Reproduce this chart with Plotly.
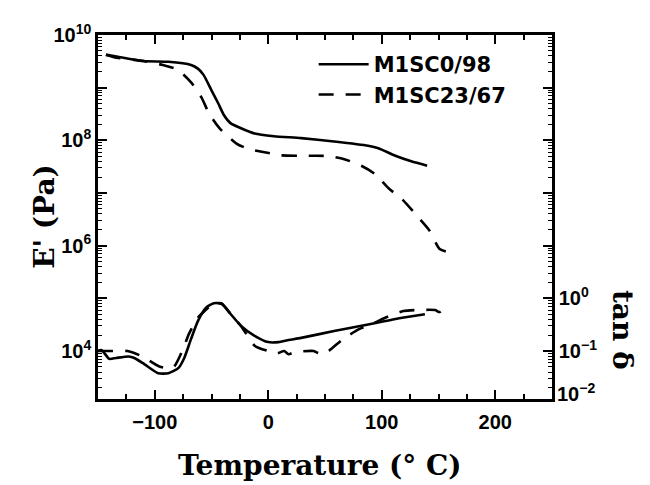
import plotly.graph_objects as go

# Storage modulus E' (Pa) versus temperature (deg C)
temp_e_solid = [-143, -136, -110, -88, -68, -62, -57, -50, -44, -39, -33, -24, -12,
                5, 29, 58, 88, 97, 112, 126, 140]
e_solid = [4.2e9, 4.0e9, 3.2e9, 3.1e9, 2.7e9, 2.3e9, 1.75e9, 8.9e8, 5.0e8, 3.0e8,
           2.1e8, 1.7e8, 1.35e8, 1.2e8, 1.1e8, 9.5e7, 7.9e7, 7.1e7, 5.1e7, 4.0e7, 3.3e7]

temp_e_dashed = [-143, -136, -110, -93, -80, -68, -59, -52, -43, -28, -17, -2, 11,
                 27, 41, 54, 67, 82, 94, 106, 118, 131, 142, 151, 160]
e_dashed = [4.2e9, 3.8e9, 3.2e9, 2.7e9, 2.2e9, 1.26e9, 6.6e8, 3.2e8, 1.7e8, 8.7e7,
            6.8e7, 5.9e7, 5.2e7, 5.1e7, 5.1e7, 5.0e7, 4.4e7, 3.3e7, 2.3e7, 1.23e7,
            7.6e6, 3.7e6, 1.95e6, 8.7e5, 7.4e5]

# Loss tangent tan(delta) versus temperature
temp_tan_solid = [-150, -147, -140, -134, -123, -118, -109, -97, -88, -79, -74, -68,
                  -62, -55, -48, -41, -33, -24, -12, 0, 9, 18, 29, 58, 88, 118, 138]
tan_solid = [0.100, 0.105, 0.071, 0.074, 0.079, 0.074, 0.056, 0.038, 0.038, 0.048,
             0.074, 0.17, 0.37, 0.66, 0.81, 0.79, 0.50, 0.30, 0.195, 0.148, 0.148,
             0.162, 0.178, 0.24, 0.32, 0.43, 0.50]

temp_tan_dashed = [-150, -140, -124, -111, -96, -84, -75, -70, -62, -57, -48, -41,
                   -33, -24, -12, 0, 8, 14, 18, 23, 40, 45, 51, 66, 80, 93, 103,
                   119, 131, 147, 151, 159]
tan_dashed = [0.100, 0.100, 0.100, 0.079, 0.051, 0.048, 0.11, 0.21, 0.43, 0.55,
              0.81, 0.79, 0.50, 0.30, 0.126, 0.100, 0.091, 0.100, 0.087, 0.095,
              0.100, 0.089, 0.093, 0.17, 0.26, 0.34, 0.43, 0.575, 0.60, 0.60, 0.55,
              0.81]

series_names = ["M1SC0/98", "M1SC23/67"]

e_ticks = [1e4, 1e5, 1e6, 1e7, 1e8, 1e9, 1e10]
e_ticktext = ["10<sup>4</sup>", "", "10<sup>6</sup>", "", "10<sup>8</sup>", "",
              "10<sup>10</sup>"]
tan_ticks = [1e-1, 1e0, 1e1, 1e2, 1e3, 1e4, 1e5]
tan_ticktext = ["10<sup>−1</sup>", "10<sup>0</sup>", "", "", "", "", ""]
temp_ticks = [-100, 0, 100, 200]

BLACK = "black"
DASH = "15px,12px"
LW = 2.6

fig = go.Figure()
fig.add_trace(go.Scatter(x=temp_e_solid, y=e_solid, mode="lines", name=series_names[0],
                         line=dict(color=BLACK, width=LW, shape="spline", smoothing=0.6)))
fig.add_trace(go.Scatter(x=temp_e_dashed, y=e_dashed, mode="lines", name=series_names[1],
                         line=dict(color=BLACK, width=LW, dash=DASH, shape="spline",
                                   smoothing=0.6)))
fig.add_trace(go.Scatter(x=temp_tan_solid, y=tan_solid, mode="lines", yaxis="y2",
                         showlegend=False,
                         line=dict(color=BLACK, width=LW, shape="spline", smoothing=0.6)))
fig.add_trace(go.Scatter(x=temp_tan_dashed, y=tan_dashed, mode="lines", yaxis="y2",
                         showlegend=False,
                         line=dict(color=BLACK, width=LW, dash=DASH, shape="spline",
                                   smoothing=0.6)))

tickfont = dict(family="Liberation Sans, Arial, sans-serif", size=20, color=BLACK,
                weight="bold")
titlefont = dict(family="DejaVu Serif, serif", size=28, color=BLACK, weight="bold")

fig.update_layout(
    width=650, height=485,
    margin=dict(l=98, r=98, t=35, b=86),
    paper_bgcolor="white", plot_bgcolor="white",
    showlegend=True,
    legend=dict(x=0.475, y=0.975, xanchor="left", yanchor="top",
                bgcolor="rgba(0,0,0,0)", itemwidth=50, tracegroupgap=0,
                font=dict(family="DejaVu Sans, sans-serif", size=21, color=BLACK,
                          weight="bold")),
    xaxis=dict(range=[-150, 250], tickvals=temp_ticks, ticks="inside", ticklen=9,
               tickwidth=2, tickcolor=BLACK, showline=True, linewidth=2.5,
               linecolor=BLACK, mirror="ticks", showgrid=False, zeroline=False,
               tickfont=tickfont, ticklabelstandoff=3,
               minor=dict(ticks="inside", ticklen=5, tickwidth=1.5, dtick=25,
                          tick0=0, tickcolor=BLACK, showgrid=False)),
    yaxis=dict(type="log", range=[3.09, 10], tickvals=e_ticks, ticktext=e_ticktext,
               ticks="inside", ticklen=9, tickwidth=2, tickcolor=BLACK,
               showline=True, linewidth=2.5, linecolor=BLACK, mirror=True,
               showgrid=False, zeroline=False, tickfont=tickfont,
               minor=dict(ticks="inside", ticklen=4, tickwidth=1.2, dtick="D1",
                          tickcolor=BLACK, showgrid=False)),
    yaxis2=dict(type="log", range=[-1.91, 5], overlaying="y", side="right",
                tickvals=tan_ticks, ticktext=tan_ticktext,
                ticks="inside", ticklen=9, tickwidth=2, tickcolor=BLACK,
                showline=True, linewidth=2.5, linecolor=BLACK,
                showgrid=False, zeroline=False, tickfont=tickfont,
                minor=dict(ticks="inside", ticklen=4, tickwidth=1.2, dtick="D1",
                           tickcolor=BLACK, showgrid=False)),
    annotations=[
        dict(text="E' (Pa)", xref="paper", yref="paper", x=-0.117, y=0.503,
             xanchor="center", yanchor="middle",
             textangle=-90, showarrow=False, font=titlefont),
        dict(text="Temperature (° C)", xref="paper", yref="paper", x=0.49, y=-0.184,
             xanchor="center", yanchor="middle",
             showarrow=False, font=titlefont),
        dict(text="tan δ", xref="paper", yref="paper", x=1.154, y=0.19,
             xanchor="center", yanchor="middle",
             textangle=90, showarrow=False, font=titlefont),
        dict(text="10<sup>−2</sup>", xref="paper", yref="paper", x=1.0, y=0,
             xanchor="left", yanchor="middle", xshift=3, yshift=7,
             showarrow=False, font=tickfont),
    ],
)

fig.write_html("out.html")
